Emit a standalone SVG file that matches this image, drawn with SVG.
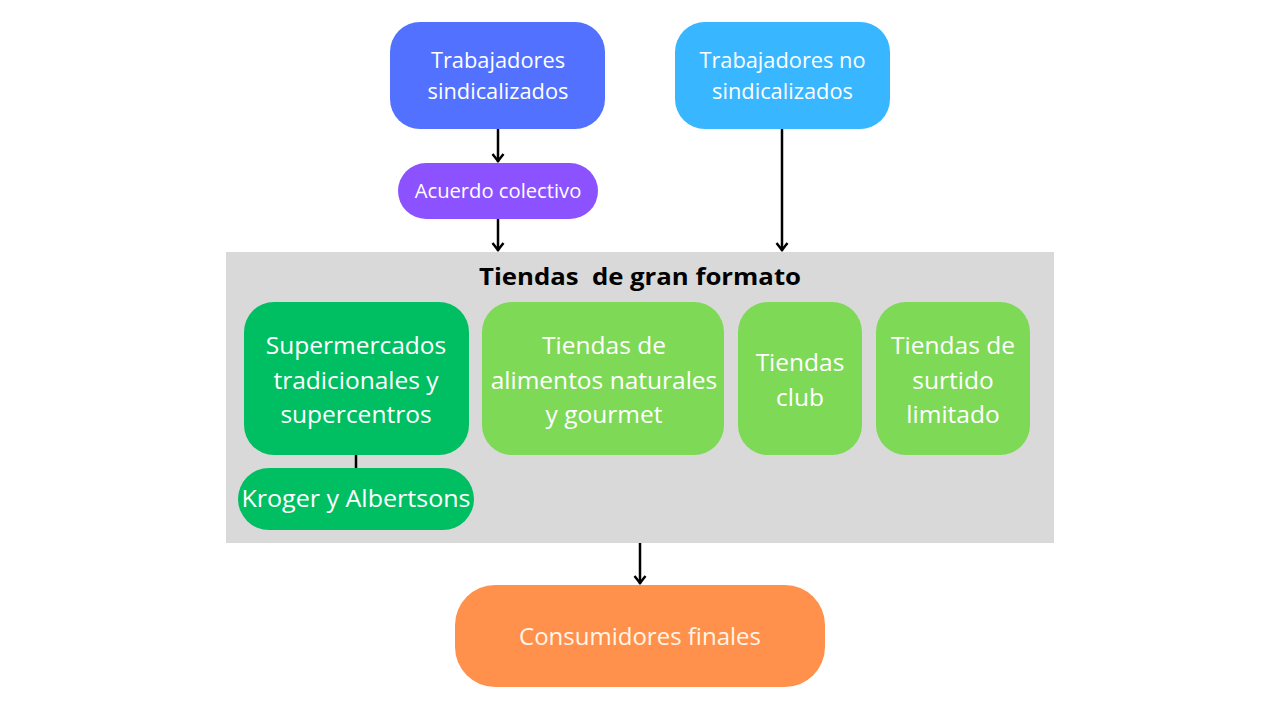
<svg xmlns="http://www.w3.org/2000/svg" width="1280" height="720" viewBox="0 0 1280 720">
<defs>
<marker id="arr" viewBox="0 0 12 14" refX="11" refY="7" markerWidth="12" markerHeight="14" markerUnits="userSpaceOnUse" orient="auto">
<path d="M3,1.5 L10,7 L3,12.5" fill="none" stroke="#000" stroke-width="2.5"/>
</marker>
</defs>
<style>
.t{font-family:"Open Sans","Liberation Sans",sans-serif;fill:#fff;text-anchor:middle}
.c{stroke:#000;stroke-width:2.5;fill:none}
</style>
<rect width="1280" height="720" fill="#fff"/>
<g id="panel">
<rect x="226" y="252" width="828" height="291" fill="#d9d9d9"/>
<text x="640" y="285" xml:space="preserve" style="white-space:pre" font-family="'Open Sans','Liberation Sans',sans-serif" font-weight="bold" font-size="24" text-anchor="middle" fill="#000" textLength="322" lengthAdjust="spacingAndGlyphs">Tiendas  de gran formato</text>
</g>
<g id="connectors">
<line class="c" x1="498" y1="129" x2="498" y2="162" marker-end="url(#arr)"/>
<line class="c" x1="498" y1="219" x2="498" y2="251" marker-end="url(#arr)"/>
<line class="c" x1="782" y1="129" x2="782" y2="251" marker-end="url(#arr)"/>
<line class="c" x1="640" y1="543" x2="640" y2="584" marker-end="url(#arr)"/>
<line class="c" x1="356" y1="455" x2="356" y2="468"/>
</g>
<g id="sindicalizados">
<rect x="390" y="22" width="215" height="107" rx="30" fill="#5271ff"/>
<text class="t" x="498" y="68" font-size="21.8">Trabajadores</text>
<text class="t" x="498" y="99" font-size="21.8">sindicalizados</text>
</g>
<g id="no-sindicalizados">
<rect x="675" y="22" width="215" height="107" rx="30" fill="#38b6ff"/>
<text class="t" x="782.5" y="68" font-size="21.8">Trabajadores no</text>
<text class="t" x="782.5" y="99" font-size="21.8">sindicalizados</text>
</g>
<g id="acuerdo">
<rect x="398" y="163" width="200" height="56" rx="28" fill="#8c52ff"/>
<text class="t" x="498" y="198" font-size="20.2">Acuerdo colectivo</text>
</g>
<g id="supermercados">
<rect x="244" y="302" width="225" height="153" rx="30" fill="#00bf63"/>
<text class="t" x="356" y="354" font-size="24.5">Supermercados</text>
<text class="t" x="356" y="389" font-size="24.5">tradicionales y</text>
<text class="t" x="356" y="423" font-size="24.5">supercentros</text>
</g>
<g id="naturales">
<rect x="482" y="302" width="242" height="153" rx="30" fill="#7ed957"/>
<text class="t" x="604" y="354" font-size="24.5">Tiendas de</text>
<text class="t" x="604" y="389" font-size="24.5">alimentos naturales</text>
<text class="t" x="604" y="423" font-size="24.5">y gourmet</text>
</g>
<g id="club">
<rect x="738" y="302" width="124" height="153" rx="30" fill="#7ed957"/>
<text class="t" x="800" y="371" font-size="24.5">Tiendas</text>
<text class="t" x="800" y="406" font-size="24.5">club</text>
</g>
<g id="surtido">
<rect x="876" y="302" width="154" height="153" rx="30" fill="#7ed957"/>
<text class="t" x="953" y="354" font-size="24.5">Tiendas de</text>
<text class="t" x="953" y="389" font-size="24.5">surtido</text>
<text class="t" x="953" y="423" font-size="24.5">limitado</text>
</g>
<g id="kroger">
<rect x="238" y="468" width="236" height="62" rx="31" fill="#00bf63"/>
<text class="t" x="356" y="507" font-size="24.5" textLength="229" lengthAdjust="spacingAndGlyphs">Kroger y Albertsons</text>
</g>
<g id="consumidores">
<rect x="455" y="585" width="370" height="102" rx="40" fill="#ff914d"/>
<text class="t" x="640" y="645" font-size="24" style="fill:#fff6e8">Consumidores finales</text>
</g>
</svg>
